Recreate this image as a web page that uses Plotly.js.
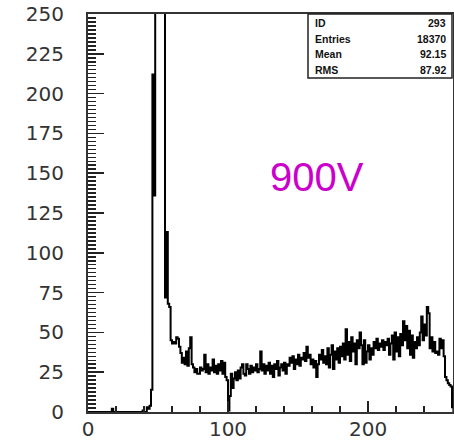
<!DOCTYPE html>
<html>
<head>
<meta charset="utf-8">
<script src="https://cdn.plot.ly/plotly-3.0.1.min.js"></script>
<style>html,body{margin:0;padding:0;background:#fff;}#chart{width:454px;height:441px;}</style>
</head>
<body>
<div id="chart"></div>
<script>
// Histogram bin contents, one per unit bin starting at 0
const counts = [
  0,0,0,0,0,0,0,0,0,0,
  0,0,0,0,0,0,0,2,0,0,
  0,0,0,0,0,0,0,0,0,0,
  0,0,0,0,0,0,0,0,0,1,
  0,0,3,2,4,14,212,136,700,2200,
  3300,2500,1200,550,307,72,113,68,66,45,
  43,44,43,47,46,41,37,31,34,30,
  38,29,40,47,30,28,25,27,24,24,
  28,26,27,36,25,30,24,28,26,33,
  25,29,24,30,26,32,24,31,22,20,
  1,10,24,15,21,25,20,26,21,28,
  30,24,23,30,27,24,29,25,28,26,
  30,25,27,38,26,30,24,29,26,31,
  24,29,22,30,27,32,23,28,30,26,
  31,24,30,29,34,31,35,27,33,30,
  36,29,34,33,37,32,41,34,36,30,
  33,28,32,22,30,36,33,39,31,35,
  30,40,28,36,42,27,38,33,40,31,
  41,35,43,33,52,36,44,32,47,38,
  43,30,45,40,50,42,30,45,31,38,
  42,33,40,36,44,40,46,39,43,41,
  45,39,44,42,46,36,43,48,33,50,
  38,47,35,49,42,57,45,54,40,51,
  36,48,34,44,40,47,42,50,60,45,
  55,48,66,62,40,47,38,44,37,38,
  36,46,40,45,35,22,20,18,17,16,
  3,0
];
const binEdges = counts.map((_, i) => i).concat([counts.length]);
const xTickValues = [0, 100, 200];
const statLabels = ["ID", "Entries", "Mean", "RMS"];
const statValues = ["293", "18370", "92.15", "87.92"];
const voltageLabel = "900V";

const stepY = counts.concat([counts[counts.length - 1]]);

const trace = {
  x: binEdges,
  y: stepY,
  type: "scatter",
  mode: "lines",
  line: {shape: "hv", color: "#000", width: 2},
  hoverinfo: "skip"
};

// pixel helpers for layout-only items (plot area 88..453 x 14..412)
const L = 88, R = 453, T = 14, B = 412;
const px = p => (p - L) / (R - L);
const py = p => (B - p) / (B - T);

const annotations = [];
const rowsY = [23, 39, 54, 70];
statLabels.forEach((lab, i) => {
  annotations.push({xref: "paper", yref: "paper", x: px(313), y: py(rowsY[i]), xanchor: "left", yanchor: "middle",
    text: "<b>" + lab + "</b>", showarrow: false, font: {family: "Liberation Sans", size: 10.5, color: "#111"}});
  annotations.push({xref: "paper", yref: "paper", x: px(448), y: py(rowsY[i]), xanchor: "right", yanchor: "middle",
    text: "<b>" + statValues[i] + "</b>", showarrow: false, font: {family: "Liberation Sans", size: 10.5, color: "#111"}});
});
annotations.push({xref: "paper", yref: "paper", x: px(317), y: py(177), xanchor: "center", yanchor: "middle",
  text: voltageLabel, showarrow: false, font: {family: "Liberation Sans", size: 40, color: "#cc00cc"}});

const layout = {
  width: 454, height: 441,
  margin: {l: L, r: 454 - R, t: T, b: 441 - B, pad: 0},
  paper_bgcolor: "#fff", plot_bgcolor: "#fff",
  showlegend: false,
  xaxis: {
    range: [0, 260.7], tickmode: "array", tickvals: xTickValues, ticktext: xTickValues.map(String),
    ticks: "inside", ticklen: 11, tickwidth: 1.5, tickcolor: "#222",
    minor: {dtick: 20, tick0: 0, ticks: "inside", ticklen: 6, tickwidth: 1.5, tickcolor: "#222", showgrid: false},
    showline: true, linecolor: "#333", linewidth: 2, mirror: true,
    showgrid: false, zeroline: false, ticklabelstandoff: -2,
    tickfont: {family: "DejaVu Sans", size: 20, color: "#333"}
  },
  yaxis: {
    range: [0, 250], dtick: 25, tick0: 0,
    ticks: "inside", ticklen: 16, tickwidth: 1.5, tickcolor: "#222",
    minor: {dtick: 2.5, ticks: "inside", ticklen: 8, tickwidth: 1.5, tickcolor: "#222", showgrid: false},
    showline: true, linecolor: "#333", linewidth: 2, mirror: true,
    showgrid: false, zeroline: false, ticklabelstandoff: 18,
    tickfont: {family: "DejaVu Sans", size: 20, color: "#333"}
  },
  shapes: [
    {type: "rect", xref: "paper", yref: "paper", x0: px(308), x1: px(452), y0: py(78), y1: py(14),
      line: {color: "#222", width: 1.5}, fillcolor: "#fff", layer: "above"}
  ],
  annotations: annotations
};

Plotly.newPlot("chart", [trace], layout, {staticPlot: true, displayModeBar: false});
</script>
</body>
</html>
